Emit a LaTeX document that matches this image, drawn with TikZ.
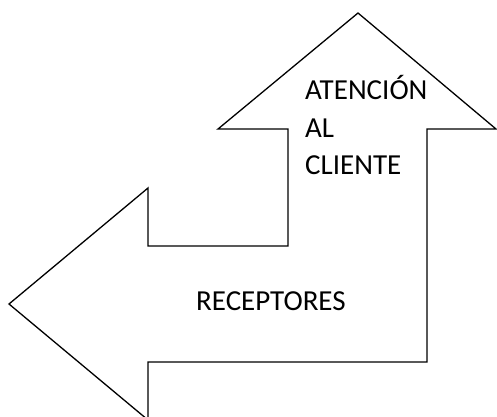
\documentclass[tikz,border=0pt]{standalone}
\usepackage{fontspec}
\setmainfont{Carlito}
\begin{document}
\begin{tikzpicture}[x=1pt,y=-1pt,
  arrowshape/.style={draw=black,line width=1.3pt,line join=miter,fill=white},
  lbl/.style={anchor=base west,inner sep=0pt,font=\fontsize{29}{35}\selectfont}]
\useasboundingbox (0,0) rectangle (497,416);
\clip (0,0) rectangle (497,416);
\draw[arrowshape] (358,13) -- (496,129) -- (427,129) -- (427,362) -- (148,362)
  -- (148,420) -- (9,304) -- (148,188) -- (148,246) -- (288,246) -- (288,129)
  -- (218,129) -- cycle;
\node[lbl] (t1) at (305,99) {ATENCIÓN};
\node[lbl] (t2) at (305,137) {AL};
\node[lbl] (t3) at (305,174) {CLIENTE};
\node[lbl] (r) at (196,310) {RECEPTORES};
\end{tikzpicture}
\end{document}
